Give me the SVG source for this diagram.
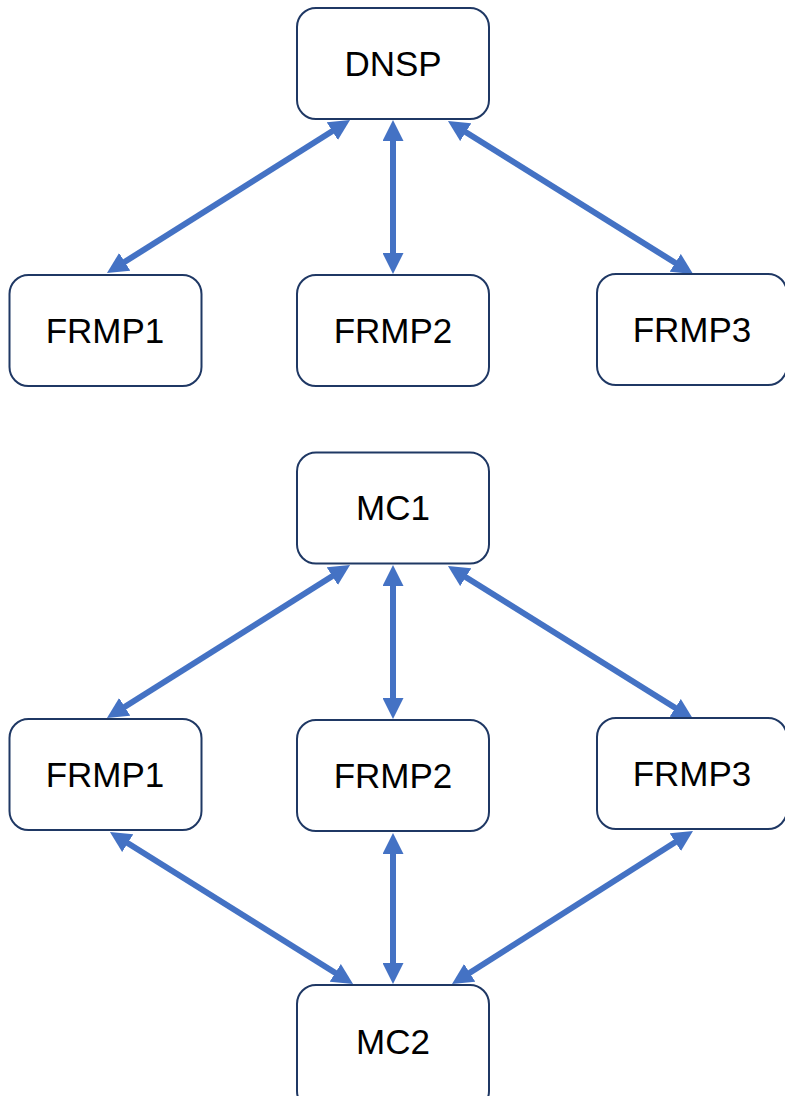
<svg xmlns="http://www.w3.org/2000/svg" width="785" height="1096" viewBox="0 0 785 1096">
<style>
.box{fill:#fff;stroke:#1F3864;stroke-width:2}
.lbl{font-family:"Liberation Sans",Arial,sans-serif;font-size:35px;fill:#000;text-anchor:middle}
.conn{stroke:#4472C4;stroke-width:6;fill:none;marker-start:url(#ah);marker-end:url(#ah)}
</style>
<defs>
<marker id="ah" markerUnits="userSpaceOnUse" markerWidth="21" markerHeight="21" refX="5" refY="10.5" orient="auto-start-reverse" viewBox="0 0 21 21">
<path d="M0,0 L21,10.5 L0,21 z" fill="#4472C4"/>
</marker>
</defs>
<rect width="785" height="1096" fill="#fff"/>
<g id="connectors">
<line class="conn" x1="336.5" y1="128.5" x2="120.5" y2="264.5"/>
<line class="conn" x1="393" y1="136" x2="393" y2="258"/>
<line class="conn" x1="461.5" y1="129.5" x2="679.5" y2="265.5"/>
<line class="conn" x1="336.5" y1="573.5" x2="120.5" y2="709.5"/>
<line class="conn" x1="393" y1="581" x2="393" y2="703"/>
<line class="conn" x1="461.5" y1="574.5" x2="679.5" y2="710.5"/>
<line class="conn" x1="123.5" y1="840.5" x2="339.5" y2="975.5"/>
<line class="conn" x1="393" y1="849" x2="393" y2="968"/>
<line class="conn" x1="679.5" y1="839.5" x2="465.5" y2="975.5"/>
</g>
<g id="dnsp"><rect class="box" x="297" y="8" width="192" height="111" rx="19"/><text class="lbl" x="393" y="76">DNSP</text></g>
<g id="frmp1a"><rect class="box" x="9.5" y="275" width="192" height="111" rx="19"/><text class="lbl" x="105" y="343">FRMP1</text></g>
<g id="frmp2a"><rect class="box" x="297" y="275" width="192" height="111" rx="19"/><text class="lbl" x="393" y="343">FRMP2</text></g>
<g id="frmp3a"><rect class="box" x="597" y="274" width="190" height="111" rx="19"/><text class="lbl" x="692" y="342">FRMP3</text></g>
<g id="mc1"><rect class="box" x="297" y="452.5" width="192" height="111" rx="19"/><text class="lbl" x="393" y="520">MC1</text></g>
<g id="frmp1b"><rect class="box" x="9.5" y="719" width="192" height="111" rx="19"/><text class="lbl" x="105" y="787">FRMP1</text></g>
<g id="frmp2b"><rect class="box" x="297" y="720" width="192" height="111" rx="19"/><text class="lbl" x="393" y="788">FRMP2</text></g>
<g id="frmp3b"><rect class="box" x="597" y="718" width="190" height="111" rx="19"/><text class="lbl" x="692" y="786">FRMP3</text></g>
<g id="mc2"><rect class="box" x="297" y="985" width="192" height="125" rx="19"/><text class="lbl" x="393" y="1054">MC2</text></g>
</svg>
